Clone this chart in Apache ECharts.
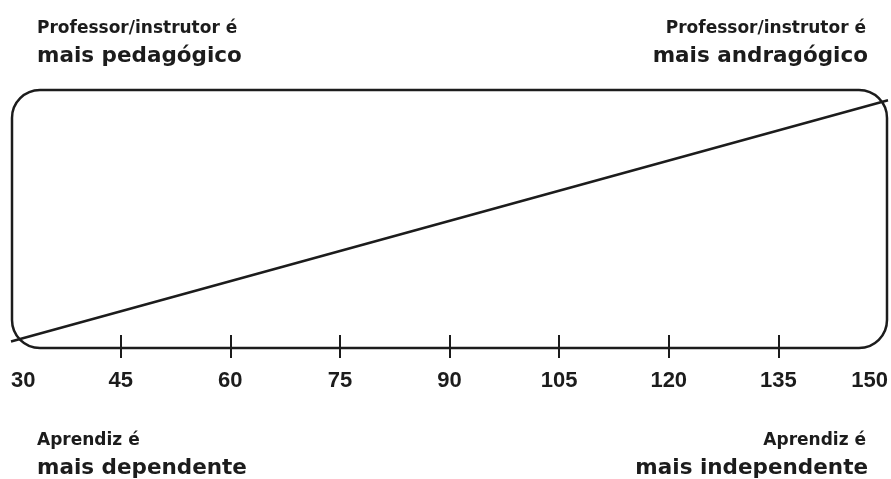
<!DOCTYPE html>
<html>
<head>
<meta charset="utf-8">
<script src="https://cdn.jsdelivr.net/npm/echarts@6/dist/echarts.min.js"></script>
<style>
html,body{margin:0;padding:0;background:#fff;}
#chart{width:891px;height:479px;}
</style>
</head>
<body>
<div id="chart"></div>
<script>
const xTicks = [30, 45, 60, 75, 90, 105, 120, 135, 150];
const innerTicks = [45, 60, 75, 90, 105, 120, 135];
const lineX = [30, 150];
const lineY = [2.5, 96];
const topLeft = ['Professor/instrutor é', 'mais pedagógico'];
const topRight = ['Professor/instrutor é', 'mais andragógico'];
const bottomLeft = ['Aprendiz é', 'mais dependente'];
const bottomRight = ['Aprendiz é', 'mais independente'];

const FONT = '"DejaVu Sans", "Liberation Sans", Arial, sans-serif';
const NUMFONT = '"Liberation Sans", Arial, sans-serif';
const INK = '#1c1c1c';

const chart = echarts.init(document.getElementById('chart'), null, {renderer: 'canvas'});

function txt(x, baseline, s, size, align) {
  return {
    type: 'text', x: x, y: baseline - 0.34 * size,
    style: {text: s, fill: INK, font: 'bold ' + size + 'px ' + FONT, align: align, verticalAlign: 'middle'}
  };
}

chart.setOption({
  animation: false,
  grid: {left: 11, right: 1, top: 90, bottom: 131},
  xAxis: [
    {
      type: 'value', min: 30, max: 150, interval: 15, position: 'bottom',
      axisLine: {show: false},
      splitLine: {show: false},
      axisTick: {show: true, inside: false, length: 10, customValues: innerTicks, lineStyle: {color: INK, width: 2}},
      axisLabel: {
        show: true, margin: 22, customValues: xTicks,
        color: INK, fontFamily: NUMFONT, fontWeight: 'bold', fontSize: 22,
        alignMinLabel: 'left', alignMaxLabel: 'right'
      }
    },
    {
      type: 'value', min: 30, max: 150, interval: 15, position: 'bottom',
      axisLine: {show: false},
      splitLine: {show: false},
      axisTick: {show: true, inside: true, length: 13, customValues: innerTicks, lineStyle: {color: INK, width: 2}},
      axisLabel: {show: false}
    }
  ],
  yAxis: {type: 'value', min: 0, max: 100, show: false},
  series: [{
    type: 'line',
    xAxisIndex: 0,
    data: lineX.map((x, i) => [x, lineY[i]]),
    symbol: 'none',
    lineStyle: {color: INK, width: 2.5},
    clip: true,
    silent: true
  }],
  graphic: [
    {type: 'rect', shape: {x: 12, y: 90, width: 875, height: 258, r: 28}, style: {fill: 'none', stroke: INK, lineWidth: 2.5}, z: 100},
    txt(37, 34, topLeft[0], 17, 'left'),
    txt(37, 64, topLeft[1], 21.5, 'left'),
    txt(866, 34, topRight[0], 17, 'right'),
    txt(868, 64, topRight[1], 21.5, 'right'),
    txt(37, 446, bottomLeft[0], 17, 'left'),
    txt(37, 476, bottomLeft[1], 21.5, 'left'),
    txt(866, 446, bottomRight[0], 17, 'right'),
    txt(868, 476, bottomRight[1], 21.5, 'right')
  ]
});
</script>
</body>
</html>
